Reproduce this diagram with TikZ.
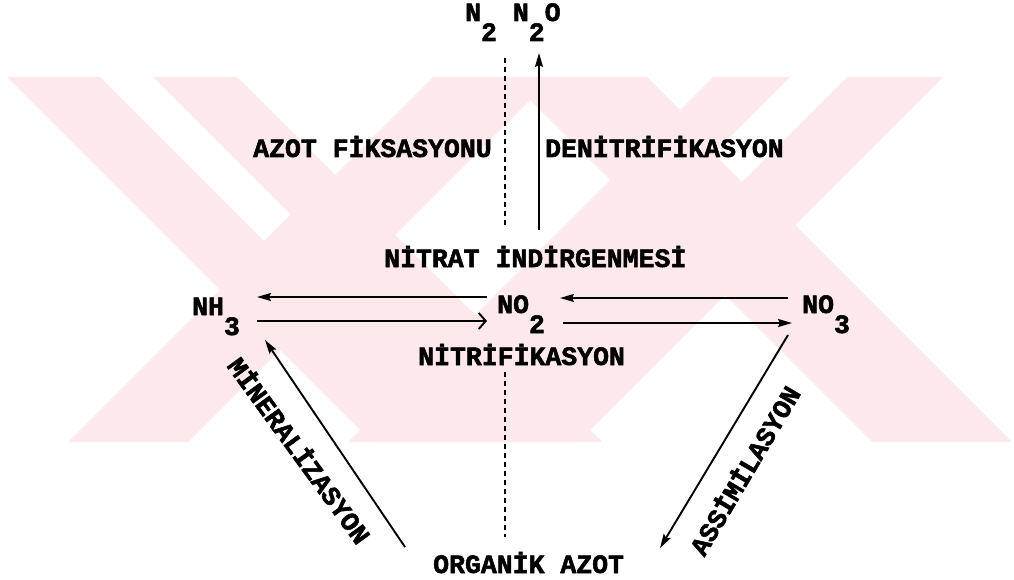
\documentclass[tikz,border=0pt]{standalone}
\usepackage{fontspec}
\usetikzlibrary{arrows.meta}
\newfontfamily\tw{Liberation Mono}[BoldFeatures={FakeBold=2}]
\definecolor{wmpink}{RGB}{253,232,236}
\newcommand\lowr[1]{\raisebox{-20pt}{#1}}
\tikzset{
  lbl/.style={font=\tw\bfseries\fontsize{26.5}{30}\selectfont, inner sep=0pt, anchor=base west},
  rlbl/.style={font=\tw\bfseries\fontsize{26.5}{30}\selectfont, inner sep=0pt},
  flow/.style={line width=1.9pt, -{Stealth[length=14pt,width=8pt,inset=2pt]}},
  openflow/.style={line width=1.9pt, -{Straight Barb[length=7pt,width=16pt,line width=1.9pt]}},
  guide/.style={line width=1.6pt, dash pattern=on 5pt off 4pt},
  band/.style={fill=wmpink, draw=none},
  gap/.style={fill=white, draw=none}
}
\begin{document}
\begin{tikzpicture}[x=1pt,y=-1pt]
\useasboundingbox (0,0) rectangle (1014,580);
% watermark
\begin{scope}
\clip (0,77) rectangle (1014,442);
% left X
\fill[band] (7,77) -- (237,77) -- (602,442) -- (372,442) -- cycle;
\fill[band] (433,77) -- (553,77) -- (188,442) -- (68,442) -- cycle;
% right X
\fill[band] (507,77) -- (647,77) -- (1012,442) -- (872,442) -- cycle;
\fill[band] (713,77) -- (943,77) -- (578,442) -- (348,442) -- cycle;
% inner gaps
\fill[gap] (100,77) -- (153,77) -- (290.5,214.5) -- (264,241) -- cycle;
\fill[gap] (790,77) -- (847,77) -- (742,182) -- (713.5,153.5) -- cycle;
\end{scope}
% texts
\node[lbl] (n2) at (465,21) {N\lowr{2} N\lowr{2}O};
\node[lbl] (fix) at (253,157) {AZOT FİKSASYONU};
\node[lbl] (denit) at (545,157) {DENİTRİFİKASYON};
\node[lbl] (nitred) at (384,267) {NİTRAT İNDİRGENMESİ};
\node[lbl] (nh3) at (192,315) {NH\lowr{3}};
\node[lbl] (no2) at (497,313) {NO\lowr{2}};
\node[lbl] (no3) at (802,313) {NO\lowr{3}};
\node[lbl] (nitrif) at (418,365) {NİTRİFİKASYON};
\node[lbl] (org) at (433,573) {ORGANİK AZOT};
\node[rlbl, rotate=-54] (miner) at (300,450) {MİNERALİZASYON};
\node[rlbl, rotate=59.4] (assim) at (744,470) {ASSİMİLASYON};
% connector end points
\coordinate (dTop1) at (505,58);
\coordinate (dBot1) at (505,228);
\coordinate (dTop2) at (505,372);
\coordinate (dBot2) at (505,537);
\coordinate (upS) at (539,230);
\coordinate (upE) at (539,53);
\coordinate (a1s) at (487,297);
\coordinate (a1e) at (257,297);
\coordinate (a2s) at (257,321);
\coordinate (a2e) at (487,321);
\coordinate (a3s) at (788,298);
\coordinate (a3e) at (560,298);
\coordinate (a4s) at (563,323);
\coordinate (a4e) at (792,323);
\coordinate (ms) at (405,547);
\coordinate (me) at (265,340);
\coordinate (as) at (788,335);
\coordinate (ae) at (660,548);
% connectors
\draw[guide] (dTop1) -- (dBot1);
\draw[guide] (dTop2) -- (dBot2);
\draw[flow] (upS) -- (upE);
\draw[flow] (a1s) -- (a1e);
\draw[openflow] (a2s) -- (a2e);
\draw[flow] (a3s) -- (a3e);
\draw[flow] (a4s) -- (a4e);
\draw[flow] (ms) -- (me);
\draw[flow] (as) -- (ae);
\end{tikzpicture}
\end{document}
